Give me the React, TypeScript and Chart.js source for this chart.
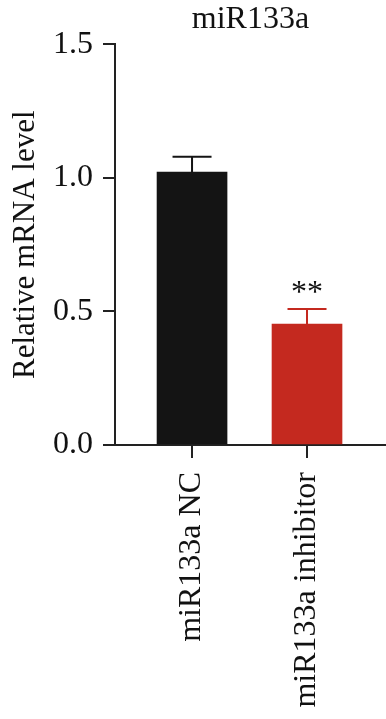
import React, { useEffect, useRef } from "react";
import { Chart, registerables } from "chart.js";

Chart.register(...registerables);

const categories = ["miR133a NC", "miR133a inhibitor"];
const means = [1.022, 0.453];
const errors = [0.057, 0.056];
const significance = ["", "**"];
const barColors = ["#141414", "#c4291f"];
const yTicks = [0, 0.5, 1.0, 1.5];
const chartTitle = "miR133a";
const yTitle = "Relative mRNA level";

const FONT = "'Liberation Serif', 'Times New Roman', serif";

const errorBarPlugin = {
  id: "errorBars",
  afterDatasetsDraw(chart: any) {
    const { ctx, scales } = chart;
    const xs = scales.x;
    const ys = scales.y;
    ctx.save();
    means.forEach((m, i) => {
      const x = xs.getPixelForValue(i);
      const yBar = ys.getPixelForValue(m);
      const yTop = ys.getPixelForValue(m + errors[i]);
      ctx.strokeStyle = barColors[i];
      ctx.lineWidth = 2;
      ctx.beginPath();
      ctx.moveTo(x, yBar);
      ctx.lineTo(x, yTop);
      ctx.moveTo(x - 19.5, yTop);
      ctx.lineTo(x + 19.5, yTop);
      ctx.stroke();
      if (significance[i]) {
        ctx.fillStyle = "#111";
        ctx.font = `32px ${FONT}`;
        ctx.textAlign = "center";
        ctx.textBaseline = "alphabetic";
        ctx.fillText(significance[i], x, yTop - 7);
      }
    });
    ctx.restore();
  },
};

export default function App() {
  const ref = useRef<HTMLCanvasElement | null>(null);
  useEffect(() => {
    if (!ref.current) return;
    const chart = new Chart(ref.current, {
      type: "bar",
      data: {
        datasets: [
          {
            data: means.map((v, i) => ({ x: i, y: v })),
            backgroundColor: barColors,
            borderWidth: 0,
            barThickness: 70,
          },
        ],
      },
      options: {
        animation: false,
        responsive: true,
        maintainAspectRatio: false,
        layout: { padding: { left: 0, right: 0, top: 0, bottom: 0 } },
        plugins: {
          legend: { display: false },
          tooltip: { enabled: false },
          title: {
            display: true,
            fullSize: false,
            text: chartTitle,
            color: "#111",
            font: { family: FONT, size: 32, weight: "normal" },
            padding: { top: 0, bottom: 6 },
          },
        },
        scales: {
          x: {
            type: "linear",
            offset: false,
            min: -0.67,
            max: 1.687,
            afterBuildTicks: (scale: any) => {
              scale.ticks = categories.map((_, i) => ({ value: i }));
            },
            afterFit: (scale: any) => {
              scale.height = 274;
            },
            grid: {
              offset: false,
              drawOnChartArea: false,
              drawTicks: true,
              tickLength: 13,
              color: "#222",
              lineWidth: 2,
            },
            border: { color: "#222", width: 2 },
            ticks: {
              callback: (v: any) => categories[v] ?? "",
              maxRotation: 90,
              minRotation: 90,
              autoSkip: false,
              padding: 14,
              color: "#111",
              font: { family: FONT, size: 32 },
            },
          },
          y: {
            min: 0,
            max: 1.5,
            afterBuildTicks: (scale: any) => {
              scale.ticks = yTicks.map((v) => ({ value: v }));
            },
            afterFit: (scale: any) => {
              scale.width = 115;
            },
            grid: {
              drawOnChartArea: false,
              drawTicks: true,
              tickLength: 12,
              color: "#222",
              lineWidth: 2,
            },
            border: { color: "#222", width: 2 },
            ticks: {
              callback: (v: any) => Number(v).toFixed(1),
              padding: 10,
              color: "#111",
              font: { family: FONT, size: 32 },
            },
            title: {
              display: true,
              text: yTitle,
              color: "#111",
              font: { family: FONT, size: 31 },
              padding: { top: 7, bottom: 0 },
            },
          },
        },
      },
      plugins: [errorBarPlugin],
    } as any);
    return () => chart.destroy();
  }, []);
  return (
    <div style={{ position: "absolute", left: 0, top: 0, width: 386, height: 719 }}>
      <canvas ref={ref} />
    </div>
  );
}
